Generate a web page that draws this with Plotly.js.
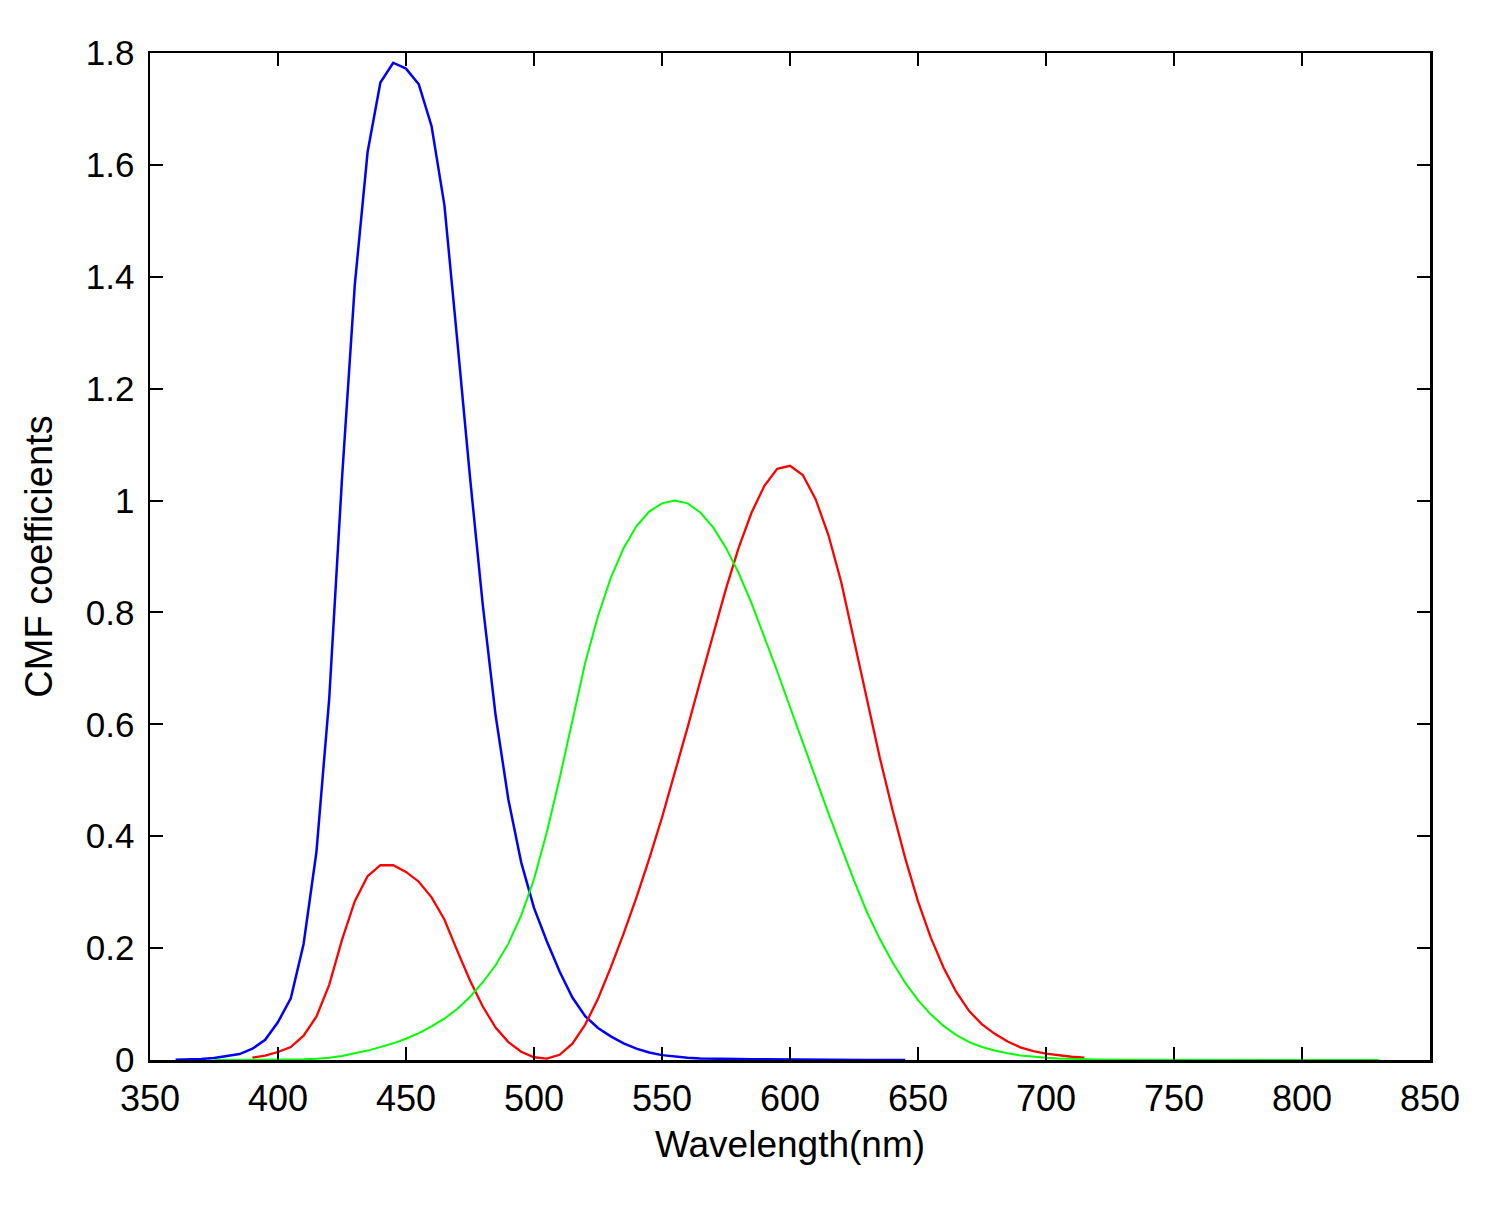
<!DOCTYPE html>
<html>
<head>
<meta charset="utf-8">
<script src="https://cdn.plot.ly/plotly-3.0.1.min.js"></script>
<style>
  html, body { margin: 0; padding: 0; background: #ffffff; }
  #chart { width: 1490px; height: 1205px; }
</style>
</head>
<body>
<div id="chart"></div>
<script>
// Blue curve (z-bar), wavelength in nm
const blueWavelength = [360,365,370,375,380,385,390,395,400,405,410,415,420,425,430,435,440,445,450,455,460,465,470,475,480,485,490,495,500,505,510,515,520,525,530,535,540,545,550,555,560,565,570,575,580,585,590,595,600,605,610,615,620,625,630,635,640,645];
const blueValues = [0.0006,0.0011,0.0019,0.0035,0.0065,0.0106,0.0201,0.0362,0.0679,0.1102,0.2074,0.3713,0.6456,1.0391,1.3856,1.6230,1.7471,1.7826,1.7721,1.7441,1.6692,1.5281,1.2876,1.0419,0.8130,0.6162,0.4652,0.3533,0.2720,0.2123,0.1582,0.1117,0.0782,0.0573,0.0422,0.0298,0.0203,0.0134,0.0087,0.0057,0.0039,0.0028,0.0021,0.0018,0.0017,0.0014,0.0011,0.0010,0.0008,0.0006,0.0003,0.0002,0.0002,0.0001,0.0001,0.0000,0.0000,0.0000];

// Red curve (x-bar)
const redWavelength = [390,395,400,405,410,415,420,425,430,435,440,445,450,455,460,465,470,475,480,485,490,495,500,505,510,515,520,525,530,535,540,545,550,555,560,565,570,575,580,585,590,595,600,605,610,615,620,625,630,635,640,645,650,655,660,665,670,675,680,685,690,695,700,705,710,715];
const redValues = [0.0042,0.0077,0.0143,0.0232,0.0435,0.0776,0.1344,0.2148,0.2839,0.3285,0.3483,0.3481,0.3362,0.3187,0.2908,0.2511,0.1954,0.1421,0.0956,0.0580,0.0320,0.0147,0.0049,0.0024,0.0093,0.0291,0.0633,0.1096,0.1655,0.2258,0.2904,0.3597,0.4335,0.5121,0.5945,0.6784,0.7621,0.8425,0.9163,0.9786,1.0263,1.0567,1.0622,1.0456,1.0026,0.9384,0.8545,0.7514,0.6424,0.5419,0.4479,0.3608,0.2835,0.2187,0.1649,0.1212,0.0874,0.0636,0.0468,0.0329,0.0227,0.0158,0.0114,0.0081,0.0058,0.0041];

// Green curve (y-bar)
const greenWavelength = [375,380,385,390,395,400,405,410,415,420,425,430,435,440,445,450,455,460,465,470,475,480,485,490,495,500,505,510,515,520,525,530,535,540,545,550,555,560,565,570,575,580,585,590,595,600,605,610,615,620,625,630,635,640,645,650,655,660,665,670,675,680,685,690,695,700,705,710,715,720,730,740,750,760,770,780,790,800,810,820,830];
const greenValues = [0.0000,0.0000,0.0001,0.0001,0.0002,0.0004,0.0006,0.0012,0.0022,0.0040,0.0073,0.0116,0.0168,0.0230,0.0298,0.0380,0.0480,0.0600,0.0739,0.0910,0.1126,0.1390,0.1693,0.2080,0.2586,0.3230,0.4073,0.5030,0.6082,0.7100,0.7932,0.8620,0.9149,0.9540,0.9803,0.9950,1.0000,0.9950,0.9786,0.9520,0.9154,0.8700,0.8163,0.7570,0.6949,0.6310,0.5668,0.5030,0.4412,0.3810,0.3210,0.2650,0.2170,0.1750,0.1382,0.1070,0.0816,0.0610,0.0446,0.0320,0.0232,0.0170,0.0119,0.0082,0.0057,0.0041,0.0029,0.0021,0.0015,0.0010,0.0005,0.0002,0.0001,0.0001,0.0000,0.0000,0.0000,0.0000,0.0000,0.0000,0.0000];

const xTickValues = [350,400,450,500,550,600,650,700,750,800,850];
const yTickValues = [0,0.2,0.4,0.6,0.8,1,1.2,1.4,1.6,1.8];
const yTickLabels = ['0','0.2','0.4','0.6','0.8','1','1.2','1.4','1.6','1.8'];

const traces = [
  {x: blueWavelength, y: blueValues, type: 'scatter', mode: 'lines', line: {color: '#0000ff', width: 2.5}, hoverinfo: 'skip'},
  {x: redWavelength, y: redValues, type: 'scatter', mode: 'lines', line: {color: '#ff0000', width: 2.3}, hoverinfo: 'skip'},
  {x: greenWavelength, y: greenValues, type: 'scatter', mode: 'lines', line: {color: '#00ff00', width: 2}, hoverinfo: 'skip'}
];

const xTickFont = {family: 'Liberation Sans, Arial, sans-serif', size: 36, color: '#000000'};
const yTickFont = {family: 'Liberation Sans, Arial, sans-serif', size: 35, color: '#000000'};
const xTitleFont = {family: 'Liberation Sans, Arial, sans-serif', size: 37, color: '#000000'};
const yTitleFont = {family: 'Liberation Sans, Arial, sans-serif', size: 38, color: '#000000'};

const layout = {
  width: 1490,
  height: 1205,
  paper_bgcolor: '#ffffff',
  plot_bgcolor: '#ffffff',
  showlegend: false,
  margin: {l: 150, r: 60, t: 53, b: 145, pad: 0},
  xaxis: {
    range: [350, 850],
    tickmode: 'array',
    tickvals: xTickValues,
    ticktext: xTickValues.map(String),
    ticks: 'inside',
    ticklen: 13,
    tickwidth: 2,
    tickcolor: '#000000',
    showline: true,
    linecolor: '#000000',
    linewidth: 2.5,
    mirror: 'ticks',
    showgrid: false,
    zeroline: false,
    tickfont: xTickFont,
    ticklabelstandoff: 5,
    title: {text: 'Wavelength(nm)', font: xTitleFont, standoff: 14}
  },
  yaxis: {
    range: [0, 1.8],
    tickmode: 'array',
    tickvals: yTickValues,
    ticktext: yTickLabels,
    ticks: 'inside',
    ticklen: 13,
    tickwidth: 2,
    tickcolor: '#000000',
    showline: true,
    linecolor: '#000000',
    linewidth: 2.5,
    mirror: 'ticks',
    showgrid: false,
    zeroline: false,
    tickfont: yTickFont,
    ticklabelstandoff: 6,
    title: {text: 'CMF coefficients', font: yTitleFont, standoff: 22}
  }
};

Plotly.newPlot('chart', traces, layout, {displayModeBar: false, staticPlot: true});
</script>
</body>
</html>
